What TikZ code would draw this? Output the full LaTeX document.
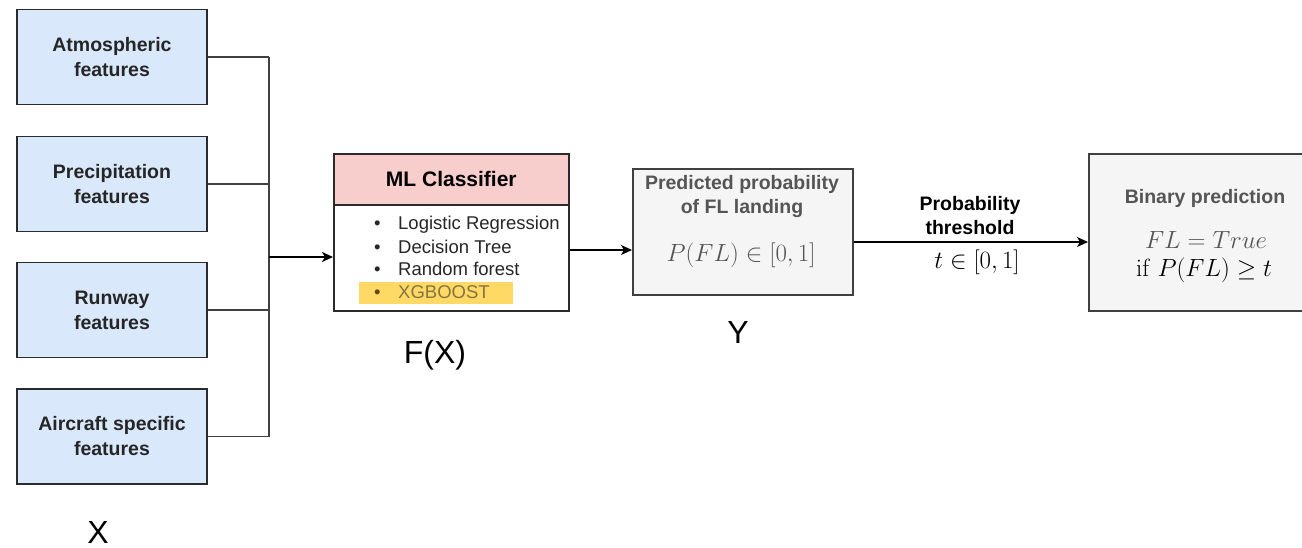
\documentclass[tikz,border=0pt]{standalone}
\usepackage[no-math]{fontspec}
\setmainfont{Liberation Sans}
\setsansfont{Liberation Sans}
\usetikzlibrary{arrows.meta}

\definecolor{featblue}{HTML}{DAE8FC}
\definecolor{mlpink}{HTML}{F8CECC}
\definecolor{boxgray}{HTML}{F5F5F5}
\definecolor{hlyellow}{HTML}{FFD966}
\definecolor{hltext}{HTML}{857440}
\definecolor{hlbullet}{HTML}{5C4A12}
\definecolor{graytext}{HTML}{555555}
\definecolor{edge}{HTML}{2B2B2B}

\begin{document}
\begin{tikzpicture}[x=1pt,y=-1pt,
  feat/.style={draw=edge,line width=1.6pt,fill=featblue,minimum width=190pt,
    minimum height=95pt,inner sep=0pt,align=center,text=black!85,
    font=\fontsize{19.5}{25}\selectfont\bfseries},
  graybox/.style={draw=edge!90,line width=1.6pt,fill=boxgray,inner sep=0pt},
  conn/.style={draw=edge!90,line width=1.4pt},
  arr/.style={draw=black,line width=1.5pt,-{Stealth[length=11pt,width=10pt,inset=3pt]}},
  item/.style={anchor=west,inner sep=0pt,font=\fontsize{18.5}{22}\selectfont,text=black!85},
  bold/.style={inner sep=0pt,align=center,font=\fontsize{19.5}{24}\selectfont\bfseries},
  biglabel/.style={inner sep=0pt,font=\fontsize{32}{36}\selectfont}]

\clip (0,0) rectangle (1302,547);
\fill[white] (0,0) rectangle (1302,547);

% input feature groups
\node[feat] (atm) at (112,57)    {Atmospheric\\features};
\node[feat] (pre) at (112,184)   {Precipitation\\features};
\node[feat] (run) at (112,310)   {Runway\\features};
\node[feat] (air) at (112,436.5) {Aircraft specific\\features};
\node[biglabel,anchor=base] (xlab) at (98,543) {X};

% bus collecting the features
\coordinate (busx) at (269,0);
\coordinate (mlin) at (333,257);
\draw[conn] (atm.east) -- (atm.east -| busx);
\draw[conn] (pre.east) -- (pre.east -| busx);
\draw[conn] (run.east) -- (run.east -| busx);
\draw[conn] (air.east) -- (air.east -| busx);
\draw[conn] (atm.east -| busx) -- (air.east -| busx);
\draw[arr,line width=2.2pt] (mlin -| busx) -- (mlin);

% classifier box
\node[draw=edge,line width=1.6pt,fill=mlpink,minimum width=235pt,minimum height=51pt,
  inner sep=0pt,anchor=north west,font=\fontsize{21}{24}\selectfont\bfseries]
  (mlhead) at (333,153) {ML Classifier};
\node[draw=edge,line width=1.6pt,fill=white,minimum width=235pt,minimum height=106pt,
  inner sep=0pt,anchor=north west] (mlbody) at (333,204) {};
\fill[hlyellow] (359,282) rectangle (513,304);
\node[item] (i1) at (374,225) {\makebox[24pt][l]{\textbullet}Logistic Regression};
\node[item] (i2) at (374,247) {\makebox[24pt][l]{\textbullet}Decision Tree};
\node[item] (i3) at (374,269) {\makebox[24pt][l]{\textbullet}Random forest};
\node[item,text=hltext] (i4) at (374,292)
  {\makebox[24pt][l]{\textcolor{hlbullet}{\textbullet}}XGBOOST};
\node[biglabel] (flab) at (435,355) {F(X)};

% predicted probability
\node[graybox,minimum width=220pt,minimum height=126pt,anchor=north west]
  (prob) at (632,168) {};
\node[bold,text=graytext] (probt) at (742,196)
  {Predicted probability\\of FL landing};
\node[inner sep=0pt,text=graytext,font=\fontsize{25}{28}\selectfont] (probf) at (741,255)
  {$P(FL)\in[0,1]$};
\node[biglabel] (ylab) at (738,332) {Y};

\coordinate (mlout) at (0,250);
\draw[arr] (mlbody.east |- mlout) -- (prob.west |- mlout);

% binary decision
\node[graybox,minimum width=230pt,minimum height=157pt,anchor=north west]
  (bin) at (1088,153) {};
\node[bold,text=graytext] (bint) at (1205,198) {Binary prediction};
\node[inner sep=0pt,text=graytext,font=\fontsize{24}{28}\selectfont,anchor=base]
  (binf) at (1206,248) {$FL = True$};
\node[inner sep=0pt,text=black,font=\fontsize{24}{28}\selectfont,anchor=base]
  (binc) at (1204,276) {$\mathrm{if}\; P(FL)\geq t$};

\coordinate (thr) at (0,242);
\draw[arr] (prob.east |- thr) -- (bin.west |- thr);
\node[bold] (thrlab) at (970,216) {Probability\\threshold};
\node[inner sep=0pt,font=\fontsize{24}{28}\selectfont] (thrval) at (977,262) {$t\in[0,1]$};

\end{tikzpicture}
\end{document}
